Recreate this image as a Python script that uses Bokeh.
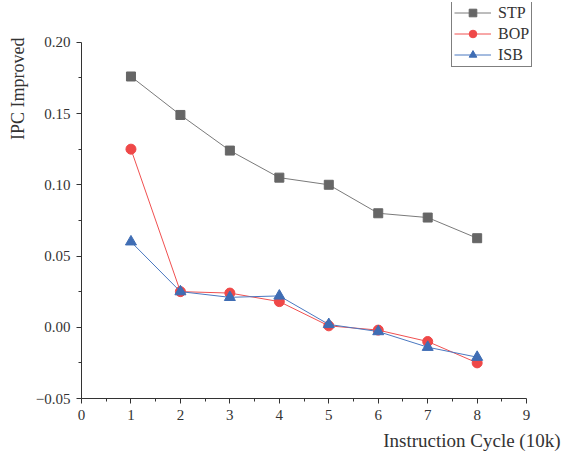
from bokeh.plotting import figure
from bokeh.models import ColumnDataSource, Legend, LegendItem, Title, CustomJSTickFormatter, FixedTicker
from bokeh.embed import file_html
from bokeh.resources import INLINE

cycles = [1, 2, 3, 4, 5, 6, 7, 8]
stp = [0.176, 0.149, 0.124, 0.105, 0.100, 0.080, 0.077, 0.0625]
bop = [0.125, 0.025, 0.024, 0.018, 0.001, -0.002, -0.010, -0.025]
isb = [0.060, 0.025, 0.021, 0.022, 0.002, -0.003, -0.014, -0.021]
x_ticks = [0, 1, 2, 3, 4, 5, 6, 7, 8, 9]
y_ticks = [-0.05, 0.00, 0.05, 0.10, 0.15, 0.20]

FONT = "Liberation Serif"

p = figure(width=564, height=455, output_backend="svg", toolbar_location=None,
           x_range=(0, 9.685), y_range=(-0.05, 0.22793),
           min_border_left=80, min_border_right=4, min_border_top=2, min_border_bottom=55)
p.outline_line_color = None
p.xgrid.visible = False
p.ygrid.visible = False

src = ColumnDataSource(dict(x=cycles, stp=stp, bop=bop, isb=isb))

l1 = p.line("x", "stp", source=src, line_color="#7a7a7a", line_width=1)
m1 = p.scatter("x", "stp", source=src, marker="square", size=9, fill_color="#666666", line_color="#666666")
l2 = p.line("x", "bop", source=src, line_color="#f05050", line_width=1)
m2 = p.scatter("x", "bop", source=src, marker="circle", size=10, fill_color="#ef4848", line_color="#ef4848")
l3 = p.line("x", "isb", source=src, line_color="#4a78c0", line_width=1)
m3 = p.scatter("x", "isb", source=src, marker="triangle", size=11, fill_color="#3f6db4", line_color="#3f6db4")

for ax in (p.xaxis[0], p.yaxis[0]):
    ax.axis_line_color = "#333333"
    ax.major_tick_line_color = "#333333"
    ax.minor_tick_line_color = "#333333"
    ax.major_tick_in = 0
    ax.major_tick_out = 5
    ax.minor_tick_in = 0
    ax.minor_tick_out = 3
    ax.major_label_text_font = FONT
    ax.major_label_text_font_size = "15px"
    ax.major_label_text_color = "#333333"
    ax.axis_label = None

p.xaxis.bounds = (0, 9)
p.yaxis.bounds = (-0.05, 0.20)
p.xaxis.ticker = FixedTicker(ticks=x_ticks, minor_ticks=[i + 0.5 for i in range(9)])
p.yaxis.ticker = FixedTicker(ticks=y_ticks, minor_ticks=[-0.025, 0.025, 0.075, 0.125, 0.175])
p.yaxis.formatter = CustomJSTickFormatter(code="return tick.toFixed(2).replace('-', '\u2212');")
p.xaxis.formatter = CustomJSTickFormatter(code="return tick.toFixed(0);")
p.xaxis.major_label_standoff = 6
p.yaxis.major_label_standoff = 6

xt = Title(text="Instruction Cycle (10k)", align="right", offset=0,
           text_font=FONT, text_font_size="19px", text_font_style="normal", text_color="#333333")
yt = Title(text="IPC Improved", align="right", offset=35,
           text_font=FONT, text_font_size="18px", text_font_style="normal", text_color="#333333")
p.add_layout(xt, "below")
p.add_layout(yt, "left")

legend = Legend(items=[LegendItem(label="STP", renderers=[l1, m1]),
                       LegendItem(label="BOP", renderers=[l2, m2]),
                       LegendItem(label="ISB", renderers=[l3, m3])],
                location=(370, 331))
legend.border_line_color = "black"
legend.border_line_width = 1
legend.label_text_font = FONT
legend.label_text_font_size = "16px"
legend.label_text_color = "#333333"
legend.glyph_width = 37
legend.glyph_height = 19
legend.label_height = 19
legend.spacing = 2
legend.padding = 2
legend.margin = 0
legend.label_standoff = 7
legend.background_fill_alpha = 1
p.add_layout(legend)

open("out.html", "w").write(file_html(p, INLINE))
